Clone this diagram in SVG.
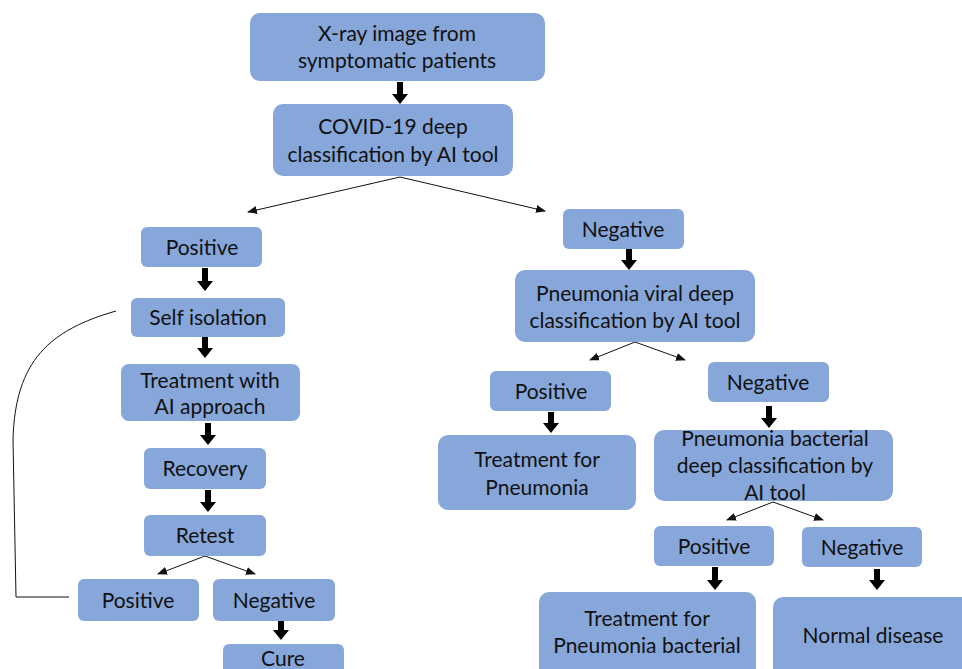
<svg xmlns="http://www.w3.org/2000/svg" width="962" height="669" viewBox="0 0 962 669">
<defs>
<style>
.n{fill:#87a7da;}
.t{font-family:Lato,"Liberation Sans",sans-serif;font-size:21px;fill:#111;text-anchor:middle;}
.c{stroke:#111;stroke-width:1;fill:none;}
.b{fill:#000;}
</style>
<marker id="ah" markerWidth="10" markerHeight="8" refX="9" refY="4" orient="auto" markerUnits="userSpaceOnUse">
<path d="M0,0 L10,4 L0,8 Z" fill="#111"/>
</marker>
</defs>
<rect width="962" height="669" fill="#fff"/>
<g id="connectors">
<path class="b" d="M397,82 H403 V94 H408 L400,104 L392,94 H397 Z"/>
<path class="c" d="M400,177 L248,212" marker-end="url(#ah)"/>
<path class="c" d="M400,177 L545,211" marker-end="url(#ah)"/>
<path class="b" d="M202,268 H208 V281 H213 L205,291 L197,281 H202 Z"/>
<path class="b" d="M202,337 H208 V348 H213 L205,358 L197,348 H202 Z"/>
<path class="b" d="M205,423 H211 V435 H216 L208,445 L200,435 H205 Z"/>
<path class="b" d="M205,490 H211 V502 H216 L208,512 L200,502 H205 Z"/>
<path class="c" d="M205,556 L158,574" marker-end="url(#ah)"/>
<path class="c" d="M205,556 L255,574" marker-end="url(#ah)"/>
<path class="b" d="M278,620 H284 V630 H289 L281,640 L273,630 H278 Z"/>
<path class="c" d="M116,311 C50,330 15,360 13,440 L16,597 L69,597"/>
<path class="b" d="M626,249 H632 V260 H637 L629,270 L621,260 H626 Z"/>
<path class="c" d="M635,342 L590,360" marker-end="url(#ah)"/>
<path class="c" d="M635,342 L685,360" marker-end="url(#ah)"/>
<path class="b" d="M548,412 H554 V423 H559 L551,433 L543,423 H548 Z"/>
<path class="b" d="M766,406 H772 V418 H777 L769,428 L761,418 H766 Z"/>
<path class="c" d="M773,502 L727,520" marker-end="url(#ah)"/>
<path class="c" d="M773,502 L823,520" marker-end="url(#ah)"/>
<path class="b" d="M712,567 H718 V580 H723 L715,590 L707,580 H712 Z"/>
<path class="b" d="M874,569 H880 V580 H885 L877,590 L869,580 H874 Z"/>
</g>
<g id="xray"><rect class="n" x="250" y="13" width="295" height="68" rx="10"/><text class="t" x="397" y="41">X-ray image from</text><text class="t" x="397" y="68">symptomatic patients</text></g>
<g id="covid"><rect class="n" x="273" y="104" width="240" height="72" rx="10"/><text class="t" x="393" y="134">COVID-19 deep</text><text class="t" x="393" y="162">classification by AI tool</text></g>
<g id="pos1"><rect class="n" x="141" y="227" width="121" height="40" rx="6"/><text class="t" x="202" y="255">Positive</text></g>
<g id="self"><rect class="n" x="131" y="298" width="154" height="39" rx="6"/><text class="t" x="208" y="325">Self isolation</text></g>
<g id="treatAI"><rect class="n" x="121" y="364" width="179" height="57" rx="8"/><text class="t" x="210" y="388">Treatment with</text><text class="t" x="210" y="414">AI approach</text></g>
<g id="recovery"><rect class="n" x="144" y="448" width="122" height="41" rx="6"/><text class="t" x="205" y="476">Recovery</text></g>
<g id="retest"><rect class="n" x="144" y="515" width="122" height="41" rx="6"/><text class="t" x="205" y="543">Retest</text></g>
<g id="pos2"><rect class="n" x="78" y="579" width="121" height="42" rx="6"/><text class="t" x="138" y="608">Positive</text></g>
<g id="neg2"><rect class="n" x="213" y="579" width="122" height="42" rx="6"/><text class="t" x="274" y="608">Negative</text></g>
<g id="cure"><rect class="n" x="223" y="644" width="121" height="40" rx="6"/><text class="t" x="283" y="666">Cure</text></g>
<g id="neg1"><rect class="n" x="563" y="209" width="121" height="40" rx="6"/><text class="t" x="623" y="237">Negative</text></g>
<g id="viral"><rect class="n" x="515" y="270" width="240" height="72" rx="10"/><text class="t" x="635" y="301">Pneumonia viral deep</text><text class="t" x="635" y="328">classification by AI tool</text></g>
<g id="pos3"><rect class="n" x="490" y="371" width="121" height="40" rx="6"/><text class="t" x="551" y="399">Positive</text></g>
<g id="treatPn"><rect class="n" x="438" y="435" width="198" height="75" rx="10"/><text class="t" x="537" y="467">Treatment for</text><text class="t" x="537" y="495">Pneumonia</text></g>
<g id="neg3"><rect class="n" x="708" y="362" width="121" height="40" rx="6"/><text class="t" x="768" y="390">Negative</text></g>
<g id="bact"><rect class="n" x="654" y="430" width="239" height="71" rx="10"/><text class="t" x="775" y="446">Pneumonia bacterial</text><text class="t" x="775" y="473">deep classification by</text><text class="t" x="775" y="500">AI tool</text></g>
<g id="pos4"><rect class="n" x="654" y="526" width="120" height="40" rx="6"/><text class="t" x="714" y="554">Positive</text></g>
<g id="neg4"><rect class="n" x="802" y="527" width="120" height="40" rx="6"/><text class="t" x="862" y="555">Negative</text></g>
<g id="treatBact"><rect class="n" x="539" y="592" width="217" height="90" rx="10"/><text class="t" x="647" y="626">Treatment for</text><text class="t" x="647" y="653">Pneumonia bacterial</text></g>
<g id="normal"><rect class="n" x="773" y="597" width="200" height="90" rx="10"/><text class="t" x="873" y="643">Normal disease</text></g>
</svg>
